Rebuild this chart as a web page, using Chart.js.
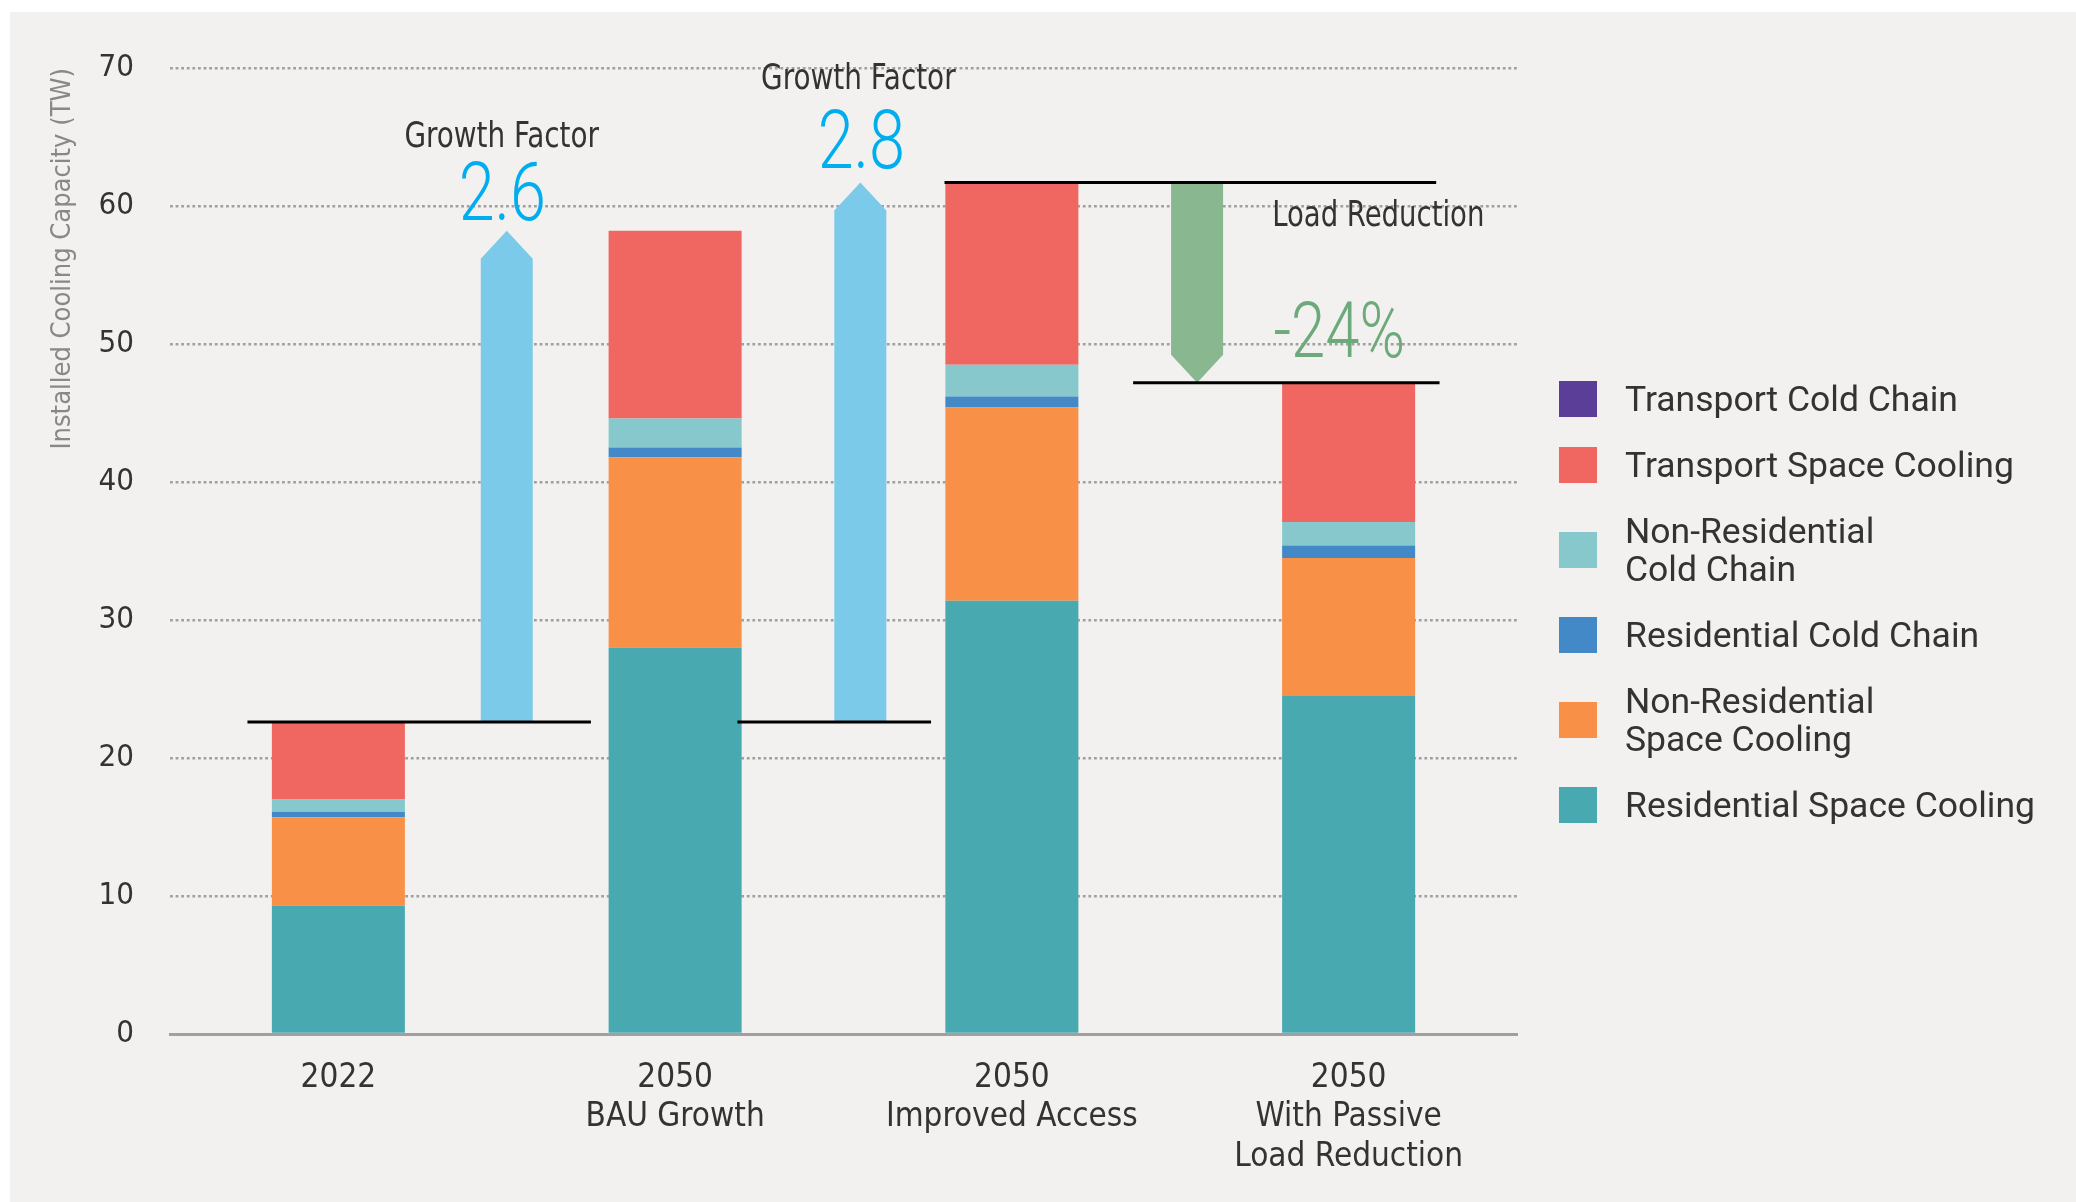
<!DOCTYPE html>
<html lang="en">
<head>
  <meta charset="UTF-8">
  <title>Installed Cooling Capacity</title>
  <script src="https://cdn.jsdelivr.net/npm/chart.js"></script>
  <style>
    body {
      margin: 0;
      background: #ffffff;
      width: 2076px;
      height: 1202px;
      overflow: hidden;
    }
    .panel {
      position: absolute;
      left: 10px;
      top: 12px;
      width: 2066px;
      height: 1190px;
      background: #f2f1ef;
    }
    .panel canvas {
      position: absolute;
      left: 0;
      top: 0;
    }
    .legend {
      position: absolute;
      left: 1549px;
      top: 368px;
      font-family: Roboto, sans-serif;
      font-size: 35.5px;
      color: #333;
    }
    .legend-item {
      display: flex;
      align-items: center;
      margin-bottom: 28px;
    }
    .legend-box {
      width: 38px;
      height: 36px;
      margin-right: 28px;
      flex: none;
    }
    .legend-text {
      line-height: 38px;
      white-space: pre-line;
    }
  </style>
</head>
<body>
  <div class="panel">
    <canvas id="coolingChart" width="2066" height="1190"></canvas>
    <div class="legend" id="legend"></div>
  </div>

  <script>
    // categories (x axis, multi-line labels)
    const categories = [
      ['2022'],
      ['2050', 'BAU Growth'],
      ['2050', 'Improved Access'],
      ['2050', 'With Passive', 'Load Reduction']
    ];

    // Installed cooling capacity (TW), stacked bottom to top
    const residentialSpace = [9.3, 28.0, 31.4, 24.5];
    const nonResidentialSpace = [6.4, 13.8, 14.0, 10.0];
    const residentialCold = [0.4, 0.7, 0.8, 0.9];
    const nonResidentialCold = [0.9, 2.1, 2.3, 1.7];
    const transportSpace = [5.6, 13.6, 13.2, 10.1];
    const transportCold = [0, 0, 0, 0];

    const seriesNames = [
      'Residential Space Cooling',
      'Non-Residential\nSpace Cooling',
      'Residential Cold Chain',
      'Non-Residential\nCold Chain',
      'Transport Space Cooling',
      'Transport Cold Chain'
    ];
    const seriesValues = [residentialSpace, nonResidentialSpace, residentialCold,
                          nonResidentialCold, transportSpace, transportCold];
    const seriesColors = ['#49a9b0', '#f89047', '#4388c7', '#86c8cc', '#f06661', '#5b3e97'];

    // y axis ticks
    const yMin = 0;
    const yMax = 70;
    const yStep = 10;

    // callout texts
    const calloutLabels = ['Growth Factor', 'Growth Factor', 'Load Reduction'];
    const calloutValues = ['2.6', '2.8', '-24%'];

    const narrow = "'Liberation Sans Narrow', 'DejaVu Sans Condensed', 'Arial Narrow', sans-serif";
    const light = "Roboto, 'DejaVu Sans', sans-serif";
    Chart.defaults.font.family = narrow;
    Chart.defaults.color = '#333';

    const totals = categories.map((c, i) => seriesValues.reduce((s, arr) => s + arr[i], 0));

    // arrows / reference lines / texts placed in category-index and value units
    const arrowSpecs = [
      { at: 0.5, from: totals[0], to: totals[1], color: '#7bcae9' },
      { at: 1.55, from: totals[0], to: totals[2], color: '#7bcae9' },
      { at: 2.55, from: totals[2], to: totals[3], color: '#89b78f' }
    ];
    const lineSpecs = [
      { value: totals[0], from: -0.27, to: 0.75 },
      { value: totals[0], from: 1.185, to: 1.76 },
      { value: totals[2], from: 1.8, to: 3.26 },
      { value: totals[3], from: 2.36, to: 3.27 }
    ];
    const textSpecs = [
      { text: calloutLabels[0], at: 0.485, value: 64.3, font: '36px ' + narrow, squeeze: 0.86, color: '#333' },
      { text: calloutValues[0], at: 0.487, value: 59.0, font: '300 81px ' + light, squeeze: 0.8, color: '#00aeef' },
      { text: calloutLabels[1], at: 1.544, value: 68.5, font: '36px ' + narrow, squeeze: 0.86, color: '#333' },
      { text: calloutValues[1], at: 1.553, value: 62.75, font: '300 81px ' + light, squeeze: 0.8, color: '#00aeef' },
      { text: calloutLabels[2], at: 3.088, value: 58.55, font: '36px ' + narrow, squeeze: 0.85, color: '#333' },
      { text: calloutValues[2], at: 2.972, value: 49.06, font: '300 77px ' + light, squeeze: 0.8, color: '#6caa7b' }
    ];

    const annotationPlugin = {
      id: 'annotationPlugin',
      afterDatasetsDraw(chart) {
        const { ctx, scales: { x, y } } = chart;
        ctx.save();

        // block arrows
        const half = 26, head = 28;
        arrowSpecs.forEach(a => {
          const cx = x.getPixelForValue(a.at);
          const yFrom = y.getPixelForValue(a.from);
          const yTo = y.getPixelForValue(a.to);
          const dir = yTo < yFrom ? 1 : -1;
          const shoulder = yTo + dir * head;
          ctx.fillStyle = a.color;
          ctx.beginPath();
          ctx.moveTo(cx - half, yFrom);
          ctx.lineTo(cx - half, shoulder);
          ctx.lineTo(cx, yTo);
          ctx.lineTo(cx + half, shoulder);
          ctx.lineTo(cx + half, yFrom);
          ctx.closePath();
          ctx.fill();
        });

        // black reference lines
        ctx.strokeStyle = '#000';
        ctx.lineWidth = 3;
        lineSpecs.forEach(l => {
          const py = y.getPixelForValue(l.value);
          ctx.beginPath();
          ctx.moveTo(x.getPixelForValue(l.from), py);
          ctx.lineTo(x.getPixelForValue(l.to), py);
          ctx.stroke();
        });

        // callout texts (narrowed horizontally)
        ctx.textAlign = 'center';
        ctx.textBaseline = 'alphabetic';
        textSpecs.forEach(t => {
          ctx.save();
          ctx.font = t.font;
          ctx.fillStyle = t.color;
          ctx.translate(x.getPixelForValue(t.at), y.getPixelForValue(t.value));
          ctx.scale(t.squeeze, 1);
          ctx.fillText(t.text, 0, 0);
          ctx.restore();
        });

        ctx.restore();
      }
    };

    const ctx = document.getElementById('coolingChart').getContext('2d');
    const coolingChart = new Chart(ctx, {
      type: 'bar',
      data: {
        labels: categories,
        datasets: seriesValues.map((vals, i) => ({
          label: seriesNames[i].replace('\n', ' '),
          data: vals,
          backgroundColor: seriesColors[i],
          borderWidth: 0,
          categoryPercentage: 1,
          barPercentage: 0.395
        }))
      },
      options: {
        responsive: false,
        animation: false,
        layout: {
          padding: { top: 56, right: 559, left: 0, bottom: 0 }
        },
        plugins: {
          legend: { display: false },
          tooltip: { enabled: false }
        },
        scales: {
          x: {
            stacked: true,
            grid: { display: false },
            border: { display: true, color: '#a0a0a0', width: 3 },
            ticks: {
              font: { size: 33, lineHeight: 1.21 },
              color: '#333',
              padding: 16
            },
            afterFit(scale) { scale.height = 168; }
          },
          y: {
            stacked: true,
            min: yMin,
            max: yMax,
            border: { display: false, dash: [2.8, 2.8] },
            grid: { color: '#a0a0a0', lineWidth: 2.5, drawTicks: false },
            ticks: {
              stepSize: yStep,
              font: { size: 31 },
              color: '#333',
              padding: 36
            },
            title: {
              display: true,
              text: 'Installed Cooling Capacity (TW)',
              align: 'end',
              color: '#888',
              font: { size: 27 },
              padding: { top: 37, bottom: 0 }
            },
            afterFit(scale) { scale.width = 160; }
          }
        }
      },
      plugins: [annotationPlugin]
    });

    // legend, top item = last stacked series
    const legendEl = document.getElementById('legend');
    for (let i = seriesNames.length - 1; i >= 0; i--) {
      const item = document.createElement('div');
      item.className = 'legend-item';
      item.innerHTML = '<div class="legend-box" style="background:' + seriesColors[i] + '"></div>' +
                       '<div class="legend-text"></div>';
      item.querySelector('.legend-text').textContent = seriesNames[i];
      legendEl.appendChild(item);
    }
  </script>
</body>
</html>
